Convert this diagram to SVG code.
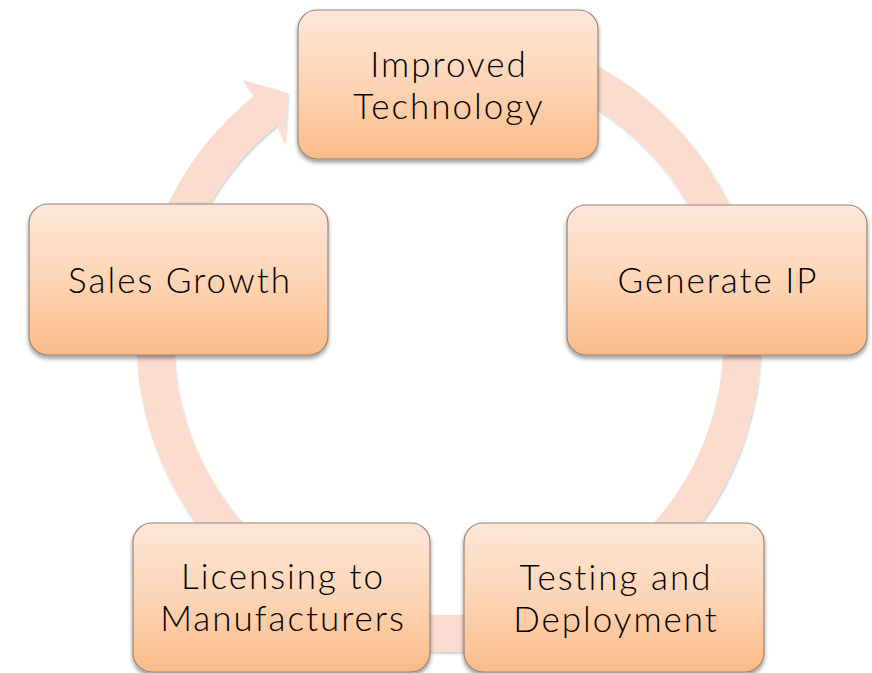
<svg xmlns="http://www.w3.org/2000/svg" width="872" height="673" viewBox="0 0 872 673">
  <style>
    .box { fill: url(#boxFill); stroke: #9a8478; stroke-width: 1.2; filter: url(#boxShadow); }
    .label { font-family: Lato, "Open Sans", "Liberation Sans", sans-serif; font-size: 35px; font-weight: 300; letter-spacing: 2px; fill: #000; text-anchor: middle; }
    .ring { fill: #fbdccf; filter: url(#ringShadow); }
  </style>
  <defs>
    <linearGradient id="boxFill" x1="0" y1="0" x2="0" y2="1">
      <stop offset="0" stop-color="#fde7d9"/>
      <stop offset="0.5" stop-color="#fdd5b6"/>
      <stop offset="1" stop-color="#fbbb88"/>
    </linearGradient>
    <filter id="boxShadow" x="-10%" y="-10%" width="120%" height="130%">
      <feGaussianBlur in="SourceAlpha" stdDeviation="2"/>
      <feOffset dx="0" dy="3" result="blur"/>
      <feComponentTransfer><feFuncA type="linear" slope="0.4"/></feComponentTransfer>
      <feMerge><feMergeNode/><feMergeNode in="SourceGraphic"/></feMerge>
    </filter>
    <filter id="ringShadow" x="-10%" y="-10%" width="120%" height="120%">
      <feGaussianBlur in="SourceAlpha" stdDeviation="1.2"/>
      <feOffset dx="1" dy="1.5" result="blur"/>
      <feComponentTransfer><feFuncA type="linear" slope="0.2"/></feComponentTransfer>
      <feMerge><feMergeNode/><feMergeNode in="SourceGraphic"/></feMerge>
    </filter>
  </defs>

  <!-- circular arrow running clockwise round the cycle -->
  <g id="connectors">
    <path class="ring" d="M421.31,29.19 A312,312 0 1 1 254.28,95.83 L243.35,80.24 L288,93 L284.65,143.3 L277.31,124.78 A275,275 0 1 0 424.53,66.05 Z"/>
  </g>

  <g id="node-improved-technology">
    <rect class="box" x="298" y="10" width="300" height="149" rx="19"/>
    <text class="label" x="449" y="77">Improved</text>
    <text class="label" x="449" y="119">Technology</text>
  </g>

  <g id="node-generate-ip">
    <rect class="box" x="567" y="205" width="300" height="150" rx="19"/>
    <text class="label" x="718" y="293">Generate IP</text>
  </g>

  <g id="node-testing-deployment">
    <rect class="box" x="464" y="523" width="300" height="149" rx="19"/>
    <text class="label" x="616" y="590">Testing and</text>
    <text class="label" x="616" y="632">Deployment</text>
  </g>

  <g id="node-licensing">
    <rect class="box" x="133" y="523" width="297" height="149" rx="19"/>
    <text class="label" x="283" y="589">Licensing to</text>
    <text class="label" x="283" y="631">Manufacturers</text>
  </g>

  <g id="node-sales-growth">
    <rect class="box" x="29" y="204" width="299" height="151" rx="19"/>
    <text class="label" x="180" y="293">Sales Growth</text>
  </g>
</svg>
